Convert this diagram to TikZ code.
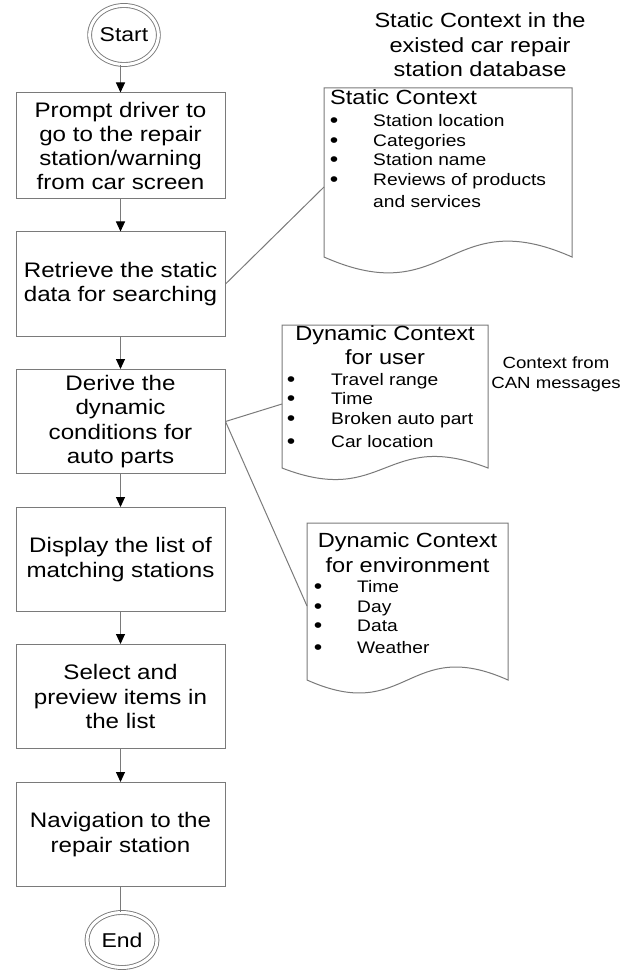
\documentclass[tikz,border=0pt]{standalone}
\usepackage{fontspec}
\setmainfont{Liberation Sans}[FakeStretch=1.15]
\usetikzlibrary{arrows.meta,shapes.geometric}
\definecolor{edge}{HTML}{7A7A7A}
\begin{document}
\begin{tikzpicture}[x=1pt,y=-1pt,
  procbox/.style={draw=edge, line width=1pt, minimum width=209pt, minimum height=104pt,
    align=center, inner sep=0pt, font=\fontsize{21}{24.3}\selectfont},
  term/.style={ellipse, draw=edge, line width=0.9pt, double=white, double distance=3pt,
    inner sep=0pt, font=\fontsize{20}{24}\selectfont},
  flow/.style={draw=edge, line width=1pt, -{Triangle[width=9pt,length=10pt,color=black]}},
  link/.style={draw=edge, line width=1pt},
  docshape/.style={draw=edge, line width=1pt, fill=white},
  dtitle/.style={font=\fontsize{20.5}{24}\selectfont, inner sep=0pt},
  ditem/.style={font=\fontsize{16.7}{20}\selectfont, inner sep=0pt, anchor=base west},
  dbullet/.style={font=\fontsize{21}{20}\selectfont, inner sep=0pt, anchor=base},
  note/.style={font=\fontsize{16.2}{20}\selectfont, inner sep=0pt, anchor=base}
]
\useasboundingbox (0,0) rectangle (635,973);

% terminals
\node[term, minimum width=66pt, minimum height=59pt] (start) at (124,35) {Start};
\node[term, minimum width=70pt, minimum height=55pt] (end) at (122,940) {End};

% process boxes
\node[procbox, minimum height=106pt] (b1) at (120.5,146) {Prompt driver to\\go to the repair\\station/warning\\from car screen};
\node[procbox] (b2) at (120.5,284) {Retrieve the static\\data for searching};
\node[procbox] (b3) at (120.5,421.5) {Derive the\\dynamic\\conditions for\\auto parts};
\node[procbox] (b4) at (120.5,559.5) {Display the list of\\matching stations};
\node[procbox] (b5) at (120.5,696.5) {Select and\\preview items in\\the list};
\node[procbox] (b6) at (120.5,834.5) {Navigation to the\\repair station};

% flow
\draw[flow] (start.south -| b1.north) -- (b1.north);
\draw[flow] (b1) -- (b2);
\draw[flow] (b2) -- (b3);
\draw[flow] (b3) -- (b4);
\draw[flow] (b4) -- (b5);
\draw[flow] (b5) -- (b6);
\draw[link] (b6.south) -- (b6.south |- end.north);

% static context document
\path[docshape] (324,88) -- (572,88) -- (572,257) .. controls (448,202) and (448,312) .. (324,257) -- cycle;
\coordinate (sdocin) at (324,187);
\node[dtitle, anchor=base] (stitle1) at (480,28) {Static Context in the};
\node[dtitle, anchor=base] (stitle2) at (480,53) {existed car repair};
\node[dtitle, anchor=base] (stitle3) at (480,77) {station database};
\node[dtitle, anchor=base west] (sdoc) at (330,105) {Static Context};
\node[dbullet] (sb1) at (334,128) {•};
\node[dbullet] (sb2) at (334,148) {•};
\node[dbullet] (sb3) at (334,167) {•};
\node[dbullet] (sb4) at (334,187) {•};
\node[ditem] (si1) at (373,127) {Station location};
\node[ditem] (si2) at (373,147) {Categories};
\node[ditem] (si3) at (373,166) {Station name};
\node[ditem] (si4) at (373,186) {Reviews of products};
\node[ditem] (si5) at (373,208) {and services};

% dynamic context for user
\path[docshape] (282,325) -- (488,325) -- (488,468) .. controls (385,428) and (385,508) .. (282,468) -- cycle;
\coordinate (udocin) at (282,404);
\node[dtitle, anchor=base] (udoc) at (385,340) {Dynamic Context};
\node[dtitle, anchor=base] (udoc2) at (385,364) {for user};
\node[dbullet] (ub1) at (291,386) {•};
\node[dbullet] (ub2) at (291,405) {•};
\node[dbullet] (ub3) at (291,425) {•};
\node[dbullet] (ub4) at (291,448) {•};
\node[ditem] (ui1) at (331,385) {Travel range};
\node[ditem] (ui2) at (331,404) {Time};
\node[ditem] (ui3) at (331,424) {Broken auto part};
\node[ditem] (ui4) at (331,447) {Car location};
\node[note] (can1) at (556,368) {Context from};
\node[note] (can2) at (556,388) {CAN messages};

% dynamic context for environment
\path[docshape] (307,523) -- (508,523) -- (508,680) .. controls (407.5,635) and (407.5,725) .. (307,680) -- cycle;
\coordinate (edocin) at (307,606);
\node[dtitle, anchor=base] (edoc) at (407.5,547) {Dynamic Context};
\node[dtitle, anchor=base] (edoc2) at (407.5,572) {for environment};
\node[dbullet] (eb1) at (318,593) {•};
\node[dbullet] (eb2) at (318,613) {•};
\node[dbullet] (eb3) at (318,632) {•};
\node[dbullet] (eb4) at (318,654) {•};
\node[ditem] (ei1) at (357,592) {Time};
\node[ditem] (ei2) at (357,612) {Day};
\node[ditem] (ei3) at (357,631) {Data};
\node[ditem] (ei4) at (357,653) {Weather};

% association links
\draw[link] (b2.east) -- (sdocin);
\draw[link] (b3.east) -- (udocin);
\draw[link] (b3.east) -- (edocin);
\end{tikzpicture}
\end{document}
